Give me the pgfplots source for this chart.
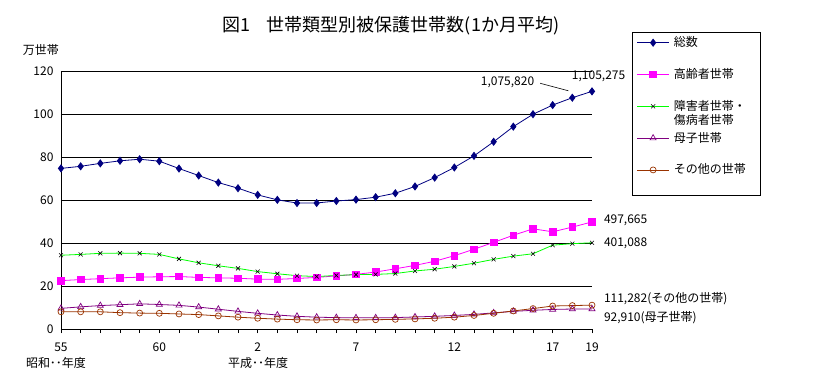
\documentclass[border=0pt]{standalone}
\usepackage{fontspec}
\setmainfont{Noto Sans CJK JP}
\usepackage{pgfplots}
\pgfplotsset{compat=1.18}
\definecolor{cTotal}{HTML}{000080}
\definecolor{cElder}{HTML}{FF00FF}
\definecolor{cSick}{HTML}{00FF00}
\definecolor{cBoshi}{HTML}{800080}
\definecolor{cOther}{HTML}{993300}
\newcommand\lbl{\fontsize{12}{14}\selectfont}
\begin{document}
\begin{tikzpicture}
\begin{axis}[
  at={(61pt,47pt)}, anchor=south west,
  scale only axis, width=531pt, height=258pt,
  xmin=0, xmax=27, ymin=0, ymax=120,
  axis lines*=left,
  axis line style={black, line width=0.8pt},
  ytick={0,20,...,120},
  ymajorgrids, major grid style={black, line width=0.8pt},
  ytick style={draw=none},
  xtick={0,5,10,15,20,25,27},
  xticklabels={55,60,2,7,12,17,19},
  minor xtick={0,...,27},
  tick align=outside, major tick length=4pt, minor tick length=4pt,
  xtick style={black, line width=0.6pt},
  tick label style={font=\lbl},
  xticklabel style={yshift=-6pt},
  /pgf/number format/assume math mode=true,
  clip=false,
  legend style={at={(1.0842,1.1329)}, anchor=north west, draw=none, fill=none,
    inner sep=0pt, outer sep=0pt, font=\lbl, row sep=19.8pt,
    nodes={inner sep=0pt, text height=10pt, text depth=2pt},
    /tikz/every odd column/.append style={column sep=4.4pt}},
  legend cell align=left,
  legend image code/.code={\draw[mark repeat=2, mark phase=2] plot coordinates {(0pt,0pt) (16pt,0pt) (32pt,0pt)};},
]
\addplot[color=cTotal, line width=0.8pt, mark=diamond*, mark size=3.5pt, mark options={fill=cTotal}]
coordinates {(0,74.70) (1,75.67) (2,77.04) (3,78.23) (4,78.96) (5,78.05) (6,74.64) (7,71.38) (8,68.10) (9,65.49) (10,62.38) (11,60.07) (12,58.60) (13,58.61) (14,59.54) (15,60.19) (16,61.31) (17,63.15) (18,66.31) (19,70.41) (20,75.13) (21,80.52) (22,87.09) (23,94.13) (24,99.89) (25,104.15) (26,107.58) (27,110.53)};
\addlegendentry{総数}
\addplot[color=cElder, line width=0.8pt, mark=square*, mark size=3.3pt, mark options={fill=cElder}]
coordinates {(0,22.5) (1,23.0) (2,23.4) (3,23.8) (4,24.1) (5,24.3) (6,24.4) (7,24.0) (8,23.8) (9,23.6) (10,23.2) (11,23.1) (12,23.5) (13,24.0) (14,24.7) (15,25.4) (16,26.5) (17,28.0) (18,29.6) (19,31.5) (20,34.1) (21,37.1) (22,40.3) (23,43.6) (24,46.6) (25,45.2) (26,47.4) (27,49.8)};
\addlegendentry{高齢者世帯}
\addplot[color=cSick, line width=0.8pt, mark=x, mark size=2.8pt, mark options={black, line width=0.6pt}]
coordinates {(0,34.3) (1,34.7) (2,35.2) (3,35.3) (4,35.2) (5,34.7) (6,32.6) (7,30.8) (8,29.4) (9,28.2) (10,26.7) (11,25.7) (12,24.8) (13,24.4) (14,24.9) (15,25.3) (16,25.4) (17,25.8) (18,27.0) (19,27.8) (20,29.1) (21,30.6) (22,32.4) (23,33.9) (24,35.0) (25,39.0) (26,39.7) (27,40.1)};
\addlegendentry{\rlap{\raisebox{-14.6pt}[0pt][0pt]{傷病者世帯}}障害者世帯・}
\addplot[color=cBoshi, line width=0.8pt, mark=triangle, mark size=3.5pt, mark options={cBoshi, line width=0.7pt}]
coordinates {(0,9.6) (1,10.3) (2,10.9) (3,11.3) (4,11.7) (5,11.4) (6,11.0) (7,10.2) (8,9.2) (9,8.2) (10,7.3) (11,6.5) (12,5.9) (13,5.5) (14,5.3) (15,5.2) (16,5.2) (17,5.3) (18,5.6) (19,5.9) (20,6.3) (21,6.8) (22,7.5) (23,8.2) (24,8.7) (25,9.1) (26,9.3) (27,9.3)};
\addlegendentry{母子世帯}
\addplot[color=cOther, line width=0.8pt, mark=o, mark size=3pt, mark options={cOther, line width=0.7pt}]
coordinates {(0,8.0) (1,8.0) (2,8.0) (3,7.6) (4,7.4) (5,7.3) (6,7.0) (7,6.7) (8,6.1) (9,5.5) (10,5.0) (11,4.6) (12,4.3) (13,4.2) (14,4.3) (15,4.2) (16,4.3) (17,4.5) (18,4.7) (19,5.0) (20,5.5) (21,6.3) (22,7.3) (23,8.4) (24,9.5) (25,10.7) (26,10.9) (27,11.1)};
\addlegendentry{その他の世帯}
\node[anchor=east, font=\lbl, inner sep=0pt] at (axis cs:24.07,114.6) {1,075,820};
\draw[black, line width=0.6pt] (axis cs:24.36,114.3) -- (axis cs:25.8,110.8);
\node[anchor=west, font=\lbl, inner sep=0pt] at (axis cs:25.97,117.7) {1,105,275};
\node[anchor=west, font=\lbl, inner sep=0pt] at (axis cs:27.6,50.7) {497,665};
\node[anchor=west, font=\lbl, inner sep=0pt] at (axis cs:27.6,40.1) {401,088};
\node[anchor=west, font=\lbl, inner sep=0pt] at (axis cs:27.6,14.3) {111,282(その他の世帯)};
\node[anchor=west, font=\lbl, inner sep=0pt] at (axis cs:27.6,5.4) {92,910(母子世帯)};
\end{axis}
\draw[black, line width=0.8pt] (632pt,343.7pt) rectangle (760pt,181pt);
\node[font=\fontsize{18}{21}\selectfont, inner sep=0pt] at (391pt,350pt) {図1\hspace{0.9em}世帯類型別被保護世帯数(1か月平均)};
\node[font=\lbl, inner sep=0pt] at (41pt,326pt) {万世帯};
\node[font=\lbl, inner sep=0pt] at (56pt,13.3pt) {昭和･･年度};
\node[font=\lbl, inner sep=0pt] at (258pt,13.3pt) {平成･･年度};
\pgfresetboundingbox
\path[use as bounding box] (0,0) rectangle (820pt,376pt);
\end{tikzpicture}
\end{document}
